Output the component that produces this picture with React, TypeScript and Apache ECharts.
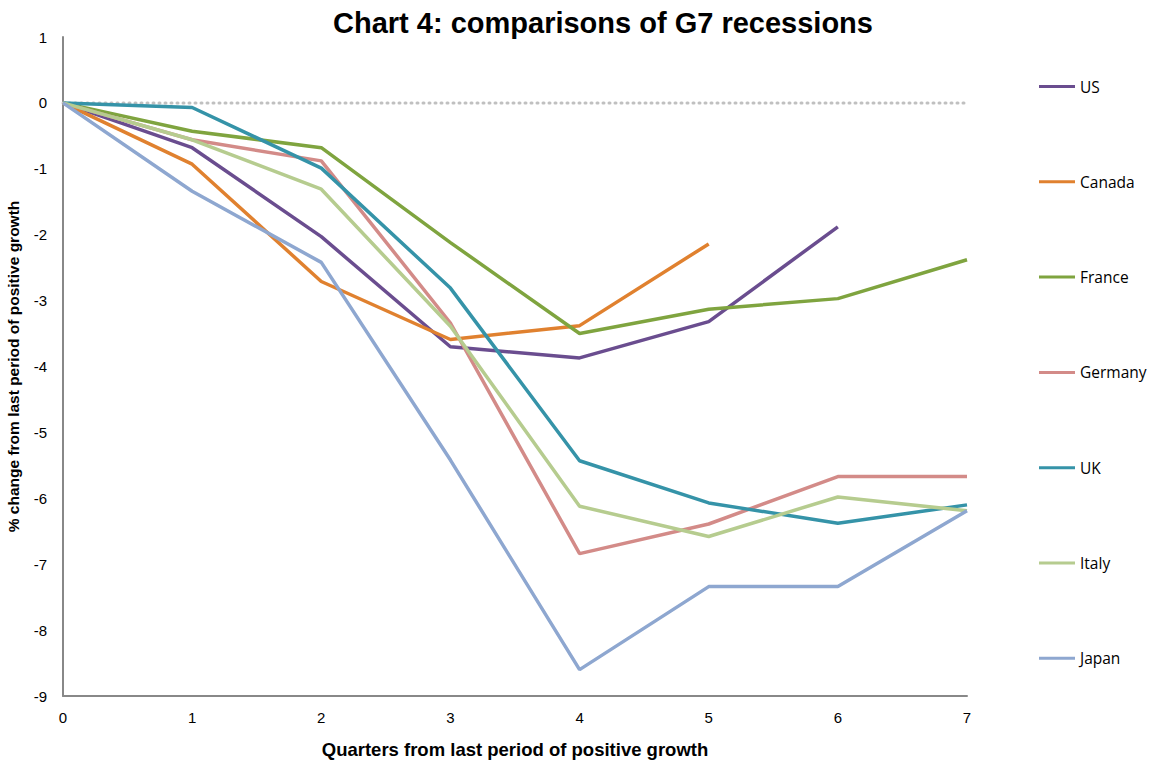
import React, { useEffect, useRef } from "react";
import * as echarts from "echarts";

const quarters = [0, 1, 2, 3, 4, 5, 6, 7];

const usValues = [0, -0.68, -2.03, -3.7, -3.87, -3.32, -1.88];
const canadaValues = [0, -0.93, -2.71, -3.59, -3.38, -2.14];
const franceValues = [0, -0.43, -0.68, -2.12, -3.5, -3.13, -2.97, -2.38];
const germanyValues = [0, -0.56, -0.88, -3.34, -6.84, -6.39, -5.67, -5.67];
const ukValues = [0, -0.07, -0.99, -2.81, -5.43, -6.07, -6.38, -6.1];
const italyValues = [0, -0.56, -1.31, -3.39, -6.12, -6.58, -5.98, -6.19];
const japanValues = [0, -1.34, -2.42, -5.42, -8.6, -7.34, -7.34, -6.19];

const countries = ["US", "Canada", "France", "Germany", "UK", "Italy", "Japan"];
const seriesValues = [usValues, canadaValues, franceValues, germanyValues, ukValues, italyValues, japanValues];
const colors = ["#6a4d8f", "#e0812f", "#7fa43f", "#d38b88", "#3593a8", "#b6cc8f", "#8ea7d0"];

export default function App() {
  const ref = useRef<HTMLDivElement>(null);

  useEffect(() => {
    if (!ref.current) return;
    const chart = echarts.init(ref.current, undefined, { renderer: "svg" });

    const series: any[] = countries.map((name, i) => ({
      name,
      type: "line",
      data: seriesValues[i].map((v, q) => [quarters[q], v]),
      symbol: "none",
      lineStyle: { color: colors[i], width: 3.5 },
      itemStyle: { color: colors[i] },
      z: 3,
    }));

    // dotted zero reference line
    series.push({
      name: "zero",
      type: "line",
      data: [
        [quarters[0], 0],
        [quarters[quarters.length - 1], 0],
      ],
      symbol: "none",
      lineStyle: { color: "#c0c0c0", width: 3, type: [1, 5], cap: "round" },
      z: 1,
      silent: true,
    });

    const axisFont = "Liberation Sans, Arial, sans-serif";

    chart.setOption({
      animation: false,
      title: {
        text: "Chart 4: comparisons of G7 recessions",
        left: 598,
        top: 3,
        textAlign: "center",
        textStyle: {
          fontFamily: axisFont,
          fontWeight: "bold",
          fontSize: 29,
          color: "#000",
        },
      },
      grid: { left: 63, right: 183, top: 37, bottom: 66, outerBoundsMode: "none", containLabel: false },
      legend: {
        data: countries,
        orient: "vertical",
        left: 1034,
        top: 72,
        itemWidth: 36,
        itemHeight: 3,
        itemGap: 76.3,
        icon: "rect",
        textStyle: {
          fontFamily: "Open Sans, sans-serif",
          fontSize: 15.5,
          color: "#000",
          lineHeight: 19,
        },
      },
      xAxis: {
        type: "value",
        min: 0,
        max: 7,
        interval: 1,
        name: "Quarters from last period of positive growth",
        nameLocation: "middle",
        nameGap: 44,
        nameTextStyle: {
          fontFamily: axisFont,
          fontWeight: "bold",
          fontSize: 18.5,
          color: "#000",
        },
        axisLine: { show: true, onZero: false, lineStyle: { color: "#888", width: 2 } },
        axisTick: { show: false },
        splitLine: { show: false },
        axisLabel: {
          fontFamily: axisFont,
          fontSize: 15,
          color: "#000",
          margin: 14,
        },
      },
      yAxis: {
        type: "value",
        min: -9,
        max: 1,
        interval: 1,
        name: "% change from last period of positive growth",
        nameLocation: "middle",
        nameGap: 42,
        nameRotate: 90,
        nameTextStyle: {
          fontFamily: axisFont,
          fontWeight: "bold",
          fontSize: 15.5,
          color: "#000",
        },
        axisLine: { show: true, lineStyle: { color: "#888", width: 2 } },
        axisTick: { show: false },
        splitLine: { show: false },
        axisLabel: {
          fontFamily: axisFont,
          fontSize: 15,
          color: "#000",
          margin: 16,
        },
      },
      series,
    });

    return () => chart.dispose();
  }, []);

  return <div ref={ref} style={{ width: 1150, height: 762, position: "absolute", left: 0, top: 0 }} />;
}
